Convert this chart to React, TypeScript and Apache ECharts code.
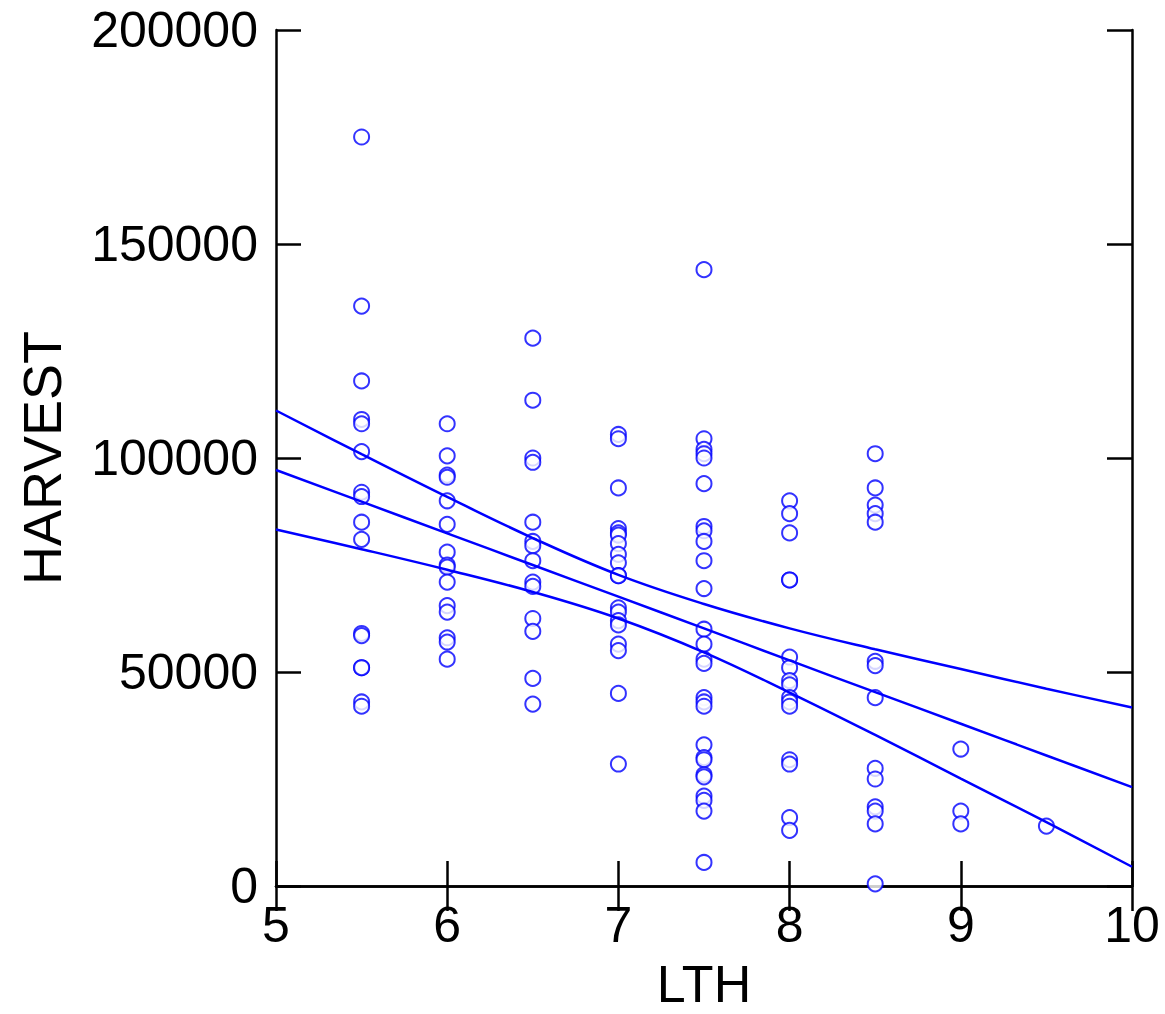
import React, { useEffect, useRef } from "react";
import * as echarts from "echarts";

// LTH levels (x) and the HARVEST values observed at each level
const LTH_LEVELS = [5.5, 6, 6.5, 7, 7.5, 8, 8.5, 9, 9.5];
const HARVEST_5_5 = [175000, 135500, 118000, 109000, 108000, 101500, 92000, 91000, 85000, 81000, 59000, 58500, 51000, 51000, 43000, 42000];
const HARVEST_6_0 = [108000, 100500, 96000, 95500, 90000, 84500, 78000, 75000, 74500, 71000, 65500, 64000, 58000, 57000, 53000];
const HARVEST_6_5 = [128000, 113500, 100000, 99000, 85000, 80500, 79500, 76000, 71000, 70000, 62500, 59500, 48500, 42500];
const HARVEST_7_0 = [105500, 104500, 93000, 83500, 82500, 82000, 80000, 77500, 75500, 72500, 72500, 65000, 64000, 62000, 61000, 56500, 55000, 45000, 28500];
const HARVEST_7_5 = [144000, 104500, 102000, 101000, 100000, 94000, 84000, 83000, 80500, 76000, 69500, 60000, 56500, 53000, 52000, 44000, 43000, 42000, 33000, 30000, 29500, 26000, 25500, 21000, 20000, 17500, 5500];
const HARVEST_8_0 = [90000, 87000, 82500, 71500, 71500, 53500, 51000, 48000, 47000, 44000, 43000, 42000, 29500, 28500, 16000, 13000];
const HARVEST_8_5 = [101000, 93000, 89000, 87000, 85000, 52500, 51500, 44000, 27500, 25000, 18500, 17500, 14500, 500];
const HARVEST_9_0 = [32000, 17500, 14500];
const HARVEST_9_5 = [14000];
const HARVEST_BY_LEVEL = [HARVEST_5_5, HARVEST_6_0, HARVEST_6_5, HARVEST_7_0, HARVEST_7_5, HARVEST_8_0, HARVEST_8_5, HARVEST_9_0, HARVEST_9_5];

// Fitted line and confidence band
const FIT_X = [5, 5.5, 6, 6.5, 7, 7.5, 8, 8.5, 9, 9.5, 10];
const FIT_Y = [97200, 89800, 82400, 75000, 67600, 60200, 52700, 45300, 37900, 30500, 23100];
const BAND_UPPER = [111100, 100900, 90900, 81300, 72700, 65900, 60200, 55300, 50700, 46100, 41700];
const BAND_LOWER = [83300, 78700, 73900, 68700, 62500, 54600, 45200, 35300, 25100, 14900, 4500];

// Axis ticks
const X_MIN = 5, X_MAX = 10, X_STEP = 1;
const Y_MIN = 0, Y_MAX = 200000, Y_STEP = 50000;

const BLUE = "#0000ff";
const FONT = "Liberation Sans";

export default function App() {
  const ref = useRef<HTMLDivElement>(null);
  useEffect(() => {
    if (!ref.current) return;
    const chart = echarts.init(ref.current, null, { renderer: "svg" });
    const points: number[][] = [];
    LTH_LEVELS.forEach((x, i) => HARVEST_BY_LEVEL[i].forEach((y) => points.push([x, y])));
    const pair = (ys: number[]) => FIT_X.map((x, i) => [x, ys[i]]);
    const axisLine = { show: true, lineStyle: { color: "#000", width: 2.5 } };
    const tick = { show: true, inside: true, length: 25, lineStyle: { color: "#000", width: 2.5 } };
    const lineSeries = (ys: number[]) => ({
      type: "line",
      data: pair(ys),
      smooth: 0.4,
      showSymbol: false,
      symbol: "none",
      lineStyle: { color: BLUE, width: 2.5 },
      xAxisIndex: 0,
      yAxisIndex: 0,
      z: 3,
    });
    chart.setOption({
      animation: false,
      backgroundColor: "#fff",
      grid: { left: 276, right: 33, top: 30, bottom: 128, containLabel: false, outerBoundsMode: "none" },
      xAxis: [
        {
          type: "value", min: X_MIN, max: X_MAX, interval: X_STEP, position: "bottom",
          axisLine, axisTick: tick, splitLine: { show: false },
          axisLabel: { fontSize: 50, color: "#000", fontFamily: FONT, margin: 14, formatter: (v: number) => String(v) },
          name: "LTH", nameLocation: "middle", nameGap: 78,
          nameTextStyle: { fontSize: 52, lineHeight: 40, color: "#000", fontFamily: FONT },
        },
        {
          type: "value", min: X_MIN, max: X_MAX, interval: X_STEP, position: "top",
          axisLine, axisTick: tick, splitLine: { show: false }, axisLabel: { show: false },
        },
      ],
      yAxis: [
        {
          type: "value", min: Y_MIN, max: Y_MAX, interval: Y_STEP, position: "left",
          axisLine, axisTick: tick, splitLine: { show: false },
          axisLabel: { fontSize: 50, color: "#000", fontFamily: FONT, margin: 18, formatter: (v: number) => String(v) },
          name: "HARVEST", nameLocation: "middle", nameGap: 207,
          nameTextStyle: { fontSize: 54, color: "#000", fontFamily: FONT },
        },
        {
          type: "value", min: Y_MIN, max: Y_MAX, interval: Y_STEP, position: "right",
          axisLine, axisTick: tick, splitLine: { show: false }, axisLabel: { show: false },
        },
      ],
      series: [
        {
          type: "scatter",
          data: points,
          symbol: "emptyCircle",
          symbolSize: 15,
          itemStyle: { color: BLUE, borderColor: BLUE, borderWidth: 1.2 },
          xAxisIndex: 0,
          yAxisIndex: 0,
          z: 2,
        },
        lineSeries(FIT_Y),
        lineSeries(BAND_UPPER),
        lineSeries(BAND_LOWER),
      ],
    });
    return () => chart.dispose();
  }, []);
  return <div ref={ref} style={{ position: "fixed", left: 0, top: 0, width: 1165, height: 1014 }} />;
}
